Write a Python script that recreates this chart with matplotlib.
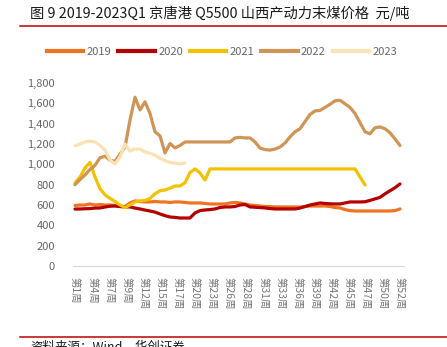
import numpy as np
import matplotlib
matplotlib.use("Agg")
import matplotlib.pyplot as plt
from matplotlib.ticker import FuncFormatter
from matplotlib.lines import Line2D

plt.rcParams['font.family'] = ['Noto Sans CJK SC', 'DejaVu Sans']

# weekly price series (yuan/ton), one point every step on the shared axis
p2019 = [595, 600, 600, 610, 600, 605, 600, 600, 595, 585, 585, 620, 640, 635, 630, 630,
         635, 630, 630, 625, 630, 630, 625, 620, 620, 620, 615, 610, 610, 610, 610, 620,
         625, 620, 610, 600, 595, 590, 585, 585, 581, 581, 581, 581, 581, 580, 585, 590,
         590, 590, 590, 585, 575, 571, 555, 545, 541, 541, 541, 541, 541, 541, 541, 541,
         545, 561]
p2020 = [560, 561, 563, 565, 570, 571, 580, 588, 590, 585, 582, 581, 570, 561, 550, 541,
         530, 512, 495, 482, 478, 472, 472, 472, 522, 545, 551, 555, 561, 575, 581, 581,
         585, 600, 605, 581, 578, 575, 571, 565, 561, 561, 561, 561, 561, 570, 585, 600,
         610, 620, 615, 612, 610, 610, 620, 630, 630, 630, 632, 645, 660, 675, 710, 740,
         770, 807]
p2021 = [817, 876, 964, 1020, 876, 760, 700, 665, 635, 600, 575, 600, 630, 640, 645, 665,
         710, 740, 748, 765, 787, 787, 820, 920, 955, 915, 846, 955] + [955] * 29 + [876, 797]
p2022 = [800, 850, 895, 950, 990, 1065, 1080, 1040, 1030, 1100, 1170, 1437, 1660, 1535,
         1615, 1500, 1320, 1280, 1112, 1205, 1161, 1185, 1220, 1220, 1220, 1220, 1220, 1220,
         1220, 1220, 1220, 1220, 1260, 1265, 1260, 1260, 1220, 1160, 1145, 1140, 1150, 1170,
         1210, 1270, 1320, 1350, 1420, 1490, 1525, 1530, 1560, 1590, 1625, 1630, 1595, 1560,
         1500, 1410, 1320, 1300, 1360, 1368, 1350, 1310, 1250, 1185]
p2023 = [1181, 1200, 1220, 1228, 1220, 1185, 1140, 1043, 1004, 1073, 1200, 1130, 1150,
         1150, 1122, 1108, 1090, 1060, 1035, 1020, 1010, 1004, 1012]

years = ['2019', '2020', '2021', '2022', '2023']
series = [p2019, p2020, p2021, p2022, p2023]
colors = ['#EE7422', '#B40000', '#F2C200', '#D09455', '#FBE2B4']
week_labels = ['第1周', '第4周', '第7周', '第9周', '第12周', '第15周', '第17周', '第20周',
               '第23周', '第26周', '第28周', '第31周', '第33周', '第36周', '第39周', '第42周',
               '第45周', '第47周', '第50周', '第52周']

W, H = 447, 347
fig = plt.figure(figsize=(W / 100, H / 100), dpi=100)
ax = fig.add_axes([73 / W, (H - 266) / H, 331 / W, 183 / H])

n = len(p2019)
for name, vals, c in zip(years, series, colors):
    ax.plot(np.arange(len(vals)), vals, color=c, lw=2.3, solid_capstyle='round',
            solid_joinstyle='round')

ax.set_xlim(-0.4, n - 1 + 0.8)
ax.set_ylim(0, 1800)
ax.set_yticks(np.arange(0, 1801, 200))
ax.yaxis.set_major_formatter(FuncFormatter(lambda v, p: f'{int(v):,}'))
ax.set_xticks(np.linspace(0, n - 1, len(week_labels)))
ax.set_xticklabels(week_labels, rotation=-90, va='top', ha='center')
ax.tick_params(axis='y', length=0, pad=13, labelsize=8, labelcolor='#666666')
ax.tick_params(axis='x', length=0, pad=8, labelsize=7.5, labelcolor='#777777')
for s in ['top', 'right', 'left']:
    ax.spines[s].set_visible(False)
ax.spines['bottom'].set_color('#D9D9D9')
ax.spines['bottom'].set_linewidth(0.8)

handles = [Line2D([], [], color=c, lw=3) for c in colors]
fig.legend(handles, years, loc='center', bbox_to_anchor=(222 / W, 1 - 52 / H), ncol=5,
           frameon=False, fontsize=8, handlelength=3.3, handletextpad=0.3,
           columnspacing=0.6, labelcolor='#666666')

fig.text(30 / W, 1 - 13 / H, '图 9 2019-2023Q1 京唐港 Q5500 山西产动力末煤价格  元/吨',
         fontsize=10.3, va='center', ha='left', color='#1A1A1A')
fig.add_artist(Line2D([20 / W, 1], [1 - 26 / H] * 2, color='#C00000', lw=1.1))
fig.add_artist(Line2D([20 / W, 1], [1 - 337 / H] * 2, color='#C00000', lw=1.1))
fig.text(30 / W, 1 - 341 / H, '资料来源：Wind，华创证券', fontsize=9, va='top', ha='left',
         style='italic', color='#1A1A1A')

fig.savefig('out.png', dpi=100)
